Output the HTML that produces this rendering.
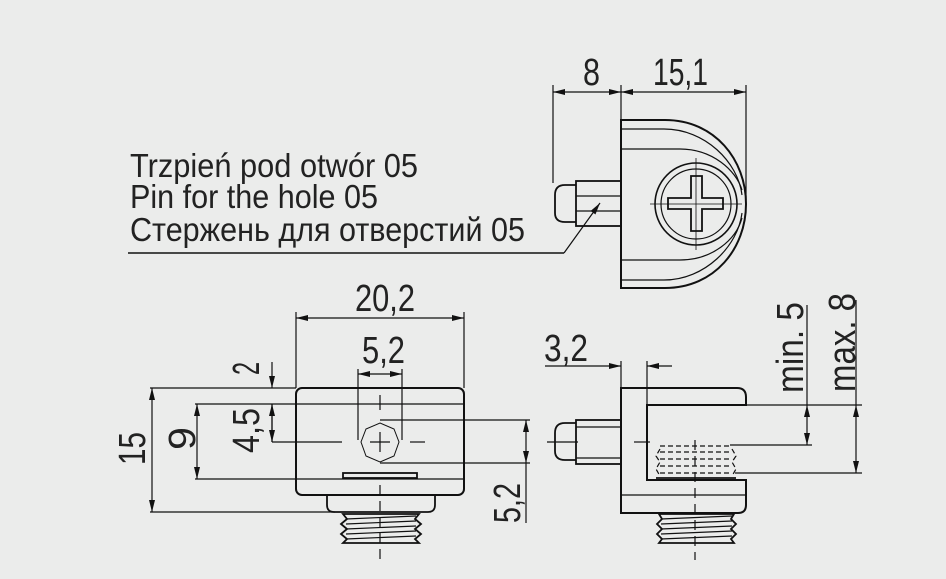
<!DOCTYPE html>
<html><head><meta charset="utf-8"><style>
html,body{margin:0;padding:0;background:#ebeceb;}
svg{display:block}
text{font-family:"Liberation Sans Narrow","Liberation Sans",sans-serif;fill:#222;}
</style></head><body>
<svg width="946" height="579" viewBox="0 0 946 579" xmlns="http://www.w3.org/2000/svg">
<defs>
<marker id="a" viewBox="0 0 12 6" refX="12" refY="3" markerWidth="12" markerHeight="6" orient="auto-start-reverse" markerUnits="userSpaceOnUse"><path d="M0,0 L12,3 L0,6z" fill="#111"/></marker>
</defs>
<g stroke="#111" fill="none" stroke-width="1.2">
<!-- ===== TOP VIEW ===== -->
<line x1="553" y1="85" x2="553" y2="183"/>
<line x1="621" y1="85" x2="621" y2="120"/>
<line x1="746" y1="85" x2="746" y2="200"/>
<line x1="553" y1="92" x2="621" y2="92" marker-start="url(#a)" marker-end="url(#a)"/>
<line x1="621" y1="92" x2="746" y2="92" marker-start="url(#a)" marker-end="url(#a)"/>
<path stroke-width="2" d="M621,120 H665 C715,120 746,160 746,204 C746,248 715,288 665,288 H621 Z"/>
<path d="M621,129 H664 C705,129 738,162 742,195"/>
<path d="M621,149 H680 C712,149 736,170 742,190"/>
<path d="M621,280 H664 C705,280 738,246 742,213"/>
<path d="M621,260 H680 C712,260 736,240 742,218"/>
<circle cx="696" cy="204" r="41" stroke-width="1.6"/>
<circle cx="696" cy="204" r="35"/>
<path stroke-width="1.8" d="M691,176 H702 V198 H723 V209 H702 V231 H691 V209 H668 V198 H691 Z"/>
<line x1="650" y1="204" x2="742" y2="204" stroke-width="0.8"/>
<line x1="696" y1="158" x2="696" y2="250" stroke-width="0.8"/>
<path stroke-width="1.8" d="M576,185 H565 Q555,185 555,195 V213 Q555,222 565,222 H576"/>
<rect x="576" y="181" width="45" height="45" stroke-width="1.8"/>
<line x1="576" y1="196" x2="621" y2="196"/>
<line x1="576" y1="211" x2="621" y2="211"/>
<line x1="128" y1="253" x2="564" y2="253" stroke-width="1.6"/>
<line x1="564" y1="253" x2="600" y2="203" marker-end="url(#a)"/>

<!-- ===== FRONT VIEW ===== -->
<line x1="296" y1="312" x2="296" y2="388"/>
<line x1="464" y1="312" x2="464" y2="388"/>
<line x1="296" y1="318" x2="464" y2="318" marker-start="url(#a)" marker-end="url(#a)"/>
<line x1="358" y1="369" x2="358" y2="440"/>
<line x1="402" y1="369" x2="402" y2="440"/>
<line x1="358" y1="374" x2="402" y2="374" marker-start="url(#a)" marker-end="url(#a)"/>
<line x1="150" y1="388" x2="296" y2="388"/>
<line x1="150" y1="512" x2="335" y2="512"/>
<line x1="152" y1="388" x2="152" y2="512" marker-start="url(#a)" marker-end="url(#a)"/>
<line x1="195" y1="404" x2="464" y2="404"/>
<line x1="195" y1="479" x2="464" y2="479"/>
<line x1="197" y1="404" x2="197" y2="479" marker-start="url(#a)" marker-end="url(#a)"/>
<line x1="272" y1="362" x2="272" y2="388" marker-end="url(#a)"/>
<line x1="272" y1="442" x2="272" y2="404" marker-end="url(#a)"/>
<line x1="272" y1="404" x2="272" y2="442" marker-end="url(#a)"/>
<line x1="272" y1="442" x2="342" y2="442"/>
<line x1="370" y1="442" x2="390" y2="442"/>
<line x1="410" y1="442" x2="425" y2="442"/>
<line x1="380" y1="395" x2="380" y2="410"/>
<line x1="380" y1="432" x2="380" y2="452"/>
<line x1="380" y1="485" x2="380" y2="560" stroke-dasharray="10,6"/>
<rect x="296" y="388" width="168" height="107" rx="6" stroke-width="2"/>
<path stroke-width="1.8" d="M327,495 V505 Q327,512 334,512 H428 Q435,512 435,505 V495"/>
<rect x="343" y="473" width="74" height="5" stroke-width="1.8"/>
<polygon points="380,423 394,429 399,442 394,456 380,462 366,456 361,442 366,429" stroke-width="1"/>
<line x1="380" y1="420" x2="530" y2="420"/>
<line x1="380" y1="463" x2="530" y2="463"/>
<line x1="526" y1="420" x2="526" y2="463" marker-start="url(#a)" marker-end="url(#a)"/>
<line x1="526" y1="463" x2="526" y2="523"/>
<path stroke-width="1.8" d="M343,514 H419 L415,519 L421,524 L415,529 L421,534 L415,539 L419,543 H343 L347,539 L341,534 L347,529 L341,524 L347,519 Z"/>
<line x1="346" y1="519" x2="416" y2="516"/><line x1="346" y1="524" x2="416" y2="521"/><line x1="346" y1="529" x2="416" y2="526"/><line x1="346" y1="534" x2="416" y2="531"/><line x1="346" y1="539" x2="416" y2="536"/>

<!-- ===== SIDE VIEW ===== -->
<line x1="545" y1="366" x2="621" y2="366" marker-end="url(#a)"/>
<line x1="672" y1="366" x2="647" y2="366" marker-end="url(#a)"/>
<line x1="621" y1="361" x2="621" y2="388"/>
<line x1="647" y1="361" x2="647" y2="405"/>
<path stroke-width="2" d="M621,388 H737 Q746,388 746,397 V405 H647 V480 H746 V505 Q746,513 738,513 H621 Z"/>
<line x1="621" y1="495" x2="746" y2="495"/>
<path stroke-width="1.8" d="M576,423 H565 Q555,423 555,433 V451 Q555,460 565,460 H576"/>
<rect x="576" y="420" width="45" height="44" stroke-width="1.8"/>
<line x1="576" y1="427" x2="621" y2="427"/>
<line x1="576" y1="458" x2="621" y2="458"/>
<line x1="547" y1="442" x2="578" y2="442"/>
<line x1="634" y1="442" x2="650" y2="442"/>
<g stroke-dasharray="5,3">
<line x1="660" y1="446" x2="732" y2="446"/><line x1="660" y1="452" x2="732" y2="452"/><line x1="660" y1="459" x2="732" y2="459"/><line x1="660" y1="466" x2="732" y2="466"/><line x1="660" y1="473" x2="732" y2="473"/>
<path d="M660,449 L656,456 L660,462 L656,469 L660,476"/><path d="M732,449 L736,456 L732,462 L736,469 L732,476"/>
</g>
<line x1="656" y1="478" x2="736" y2="478" stroke-width="1.8"/>
<line x1="695" y1="440" x2="695" y2="560" stroke-dasharray="10,6"/>
<path stroke-width="1.8" d="M659,514 H734 L731,519 L736,524 L731,529 L736,534 L731,539 L734,543 H659 L662,539 L657,534 L662,529 L657,524 L662,519 Z"/>
<line x1="661" y1="519" x2="732" y2="516"/><line x1="661" y1="524" x2="732" y2="521"/><line x1="661" y1="529" x2="732" y2="526"/><line x1="661" y1="534" x2="732" y2="531"/><line x1="661" y1="539" x2="732" y2="536"/>
<line x1="746" y1="405" x2="862" y2="405"/>
<line x1="730" y1="445" x2="812" y2="445"/>
<line x1="735" y1="473" x2="862" y2="473"/>
<line x1="807" y1="305" x2="807" y2="405"/>
<line x1="807" y1="405" x2="807" y2="445" marker-start="url(#a)" marker-end="url(#a)"/>
<line x1="856" y1="300" x2="856" y2="405"/>
<line x1="856" y1="405" x2="856" y2="473" marker-start="url(#a)" marker-end="url(#a)"/>
</g>

<!-- text -->
<text x="130" y="177" font-size="33" textLength="288" lengthAdjust="spacingAndGlyphs">Trzpień pod otwór 05</text>
<text x="130" y="208" font-size="33" textLength="248" lengthAdjust="spacingAndGlyphs">Pin for the hole 05</text>
<text x="130" y="241" font-size="33" textLength="395" lengthAdjust="spacingAndGlyphs">Стержень для отверстий  05</text>
<g font-size="38">
<text x="583" y="85" textLength="17" lengthAdjust="spacingAndGlyphs">8</text>
<text x="653" y="85" textLength="55" lengthAdjust="spacingAndGlyphs">15,1</text>
<text x="355" y="311" textLength="60" lengthAdjust="spacingAndGlyphs">20,2</text>
<text x="362" y="363" textLength="43" lengthAdjust="spacingAndGlyphs">5,2</text>
<text x="544" y="361" textLength="44" lengthAdjust="spacingAndGlyphs">3,2</text>
<text transform="translate(259,375) rotate(-90)" textLength="13" lengthAdjust="spacingAndGlyphs">2</text>
<text transform="translate(259,453) rotate(-90)" textLength="45" lengthAdjust="spacingAndGlyphs">4,5</text>
<text transform="translate(195,450) rotate(-90)" textLength="23" lengthAdjust="spacingAndGlyphs">9</text>
<text transform="translate(145,465) rotate(-90)" textLength="33" lengthAdjust="spacingAndGlyphs">15</text>
<text transform="translate(520,523) rotate(-90)" textLength="40" lengthAdjust="spacingAndGlyphs">5,2</text>
<text transform="translate(803,393) rotate(-90)" textLength="91" lengthAdjust="spacingAndGlyphs">min. 5</text>
<text transform="translate(855,392) rotate(-90)" textLength="99" lengthAdjust="spacingAndGlyphs">max. 8</text>
</g>
</svg>
</body></html>
